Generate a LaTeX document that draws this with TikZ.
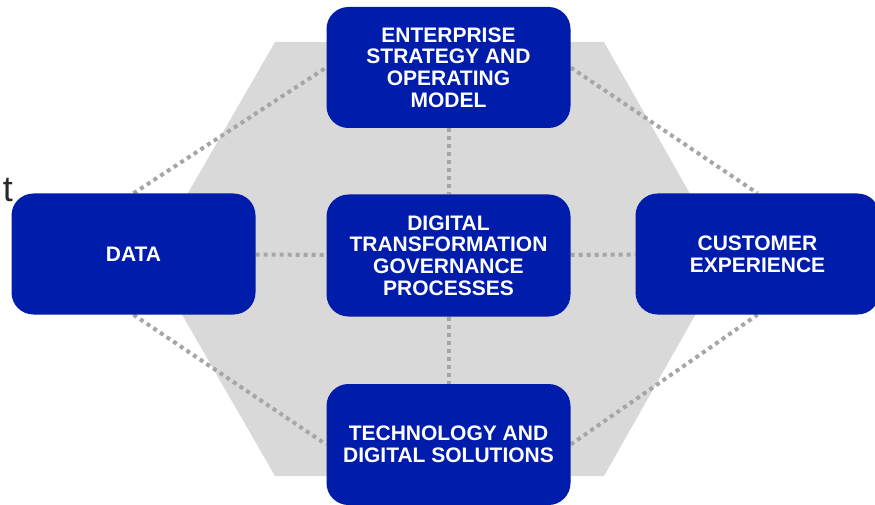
\documentclass[tikz,border=0pt]{standalone}
\usepackage{fontspec}
\setmainfont{Liberation Sans}
\usetikzlibrary{positioning, backgrounds}
\definecolor{boxblue}{RGB}{0,28,170}
\definecolor{hexgray}{RGB}{217,217,217}
\definecolor{dotgray}{RGB}{166,166,166}
\definecolor{cutgray}{RGB}{40,40,40}
\tikzset{
  pillar/.style={fill=boxblue, rounded corners=22pt, minimum width=244pt,
    minimum height=121pt, inner sep=0pt, text=white, align=center,
    font=\bfseries\fontsize{21}{21.7}\selectfont},
  link/.style={dotgray, line width=4pt, dash pattern=on 4pt off 4pt}
}
\begin{document}
\begin{tikzpicture}[x=1pt,y=-1pt]
  \useasboundingbox (0,0) rectangle (875,505);
  \clip (0,0) rectangle (875,505);
  % the five boxes
  \node[pillar] (strat) at (448.5,67.5) {ENTERPRISE\\STRATEGY AND\\OPERATING\\MODEL};
  \node[pillar, minimum height=122pt] (gov) at (448.5,255.5) {DIGITAL\\TRANSFORMATION\\GOVERNANCE\\PROCESSES};
  \node[pillar] (data) at (133.5,254) {DATA};
  \node[pillar] (cust) at (757.5,254) {CUSTOMER\\EXPERIENCE};
  \node[pillar] (tech) at (448.5,444.5) {TECHNOLOGY AND\\DIGITAL SOLUTIONS};
  \node[anchor=base east, inner sep=0pt, text=cutgray,
    font=\fontsize{36}{40}\selectfont] (cut) at (13,201) {t};
  \begin{scope}[on background layer]
    \fill[hexgray] (275,42) -- (604,42) -- (727,259) -- (604,476)
      -- (275,476) -- (150,259) -- cycle;
    \foreach \a/\b in {strat/gov, gov/tech, data/gov, gov/cust}
      \draw[link] (\a) -- (\b);
    \draw[link] (data.north) -- (strat.west);
    \draw[link] (strat.east) -- (cust.north);
    \draw[link] (data.south) -- (tech.west);
    \draw[link] (tech.east) -- (cust.south);
  \end{scope}
\end{tikzpicture}
\end{document}
